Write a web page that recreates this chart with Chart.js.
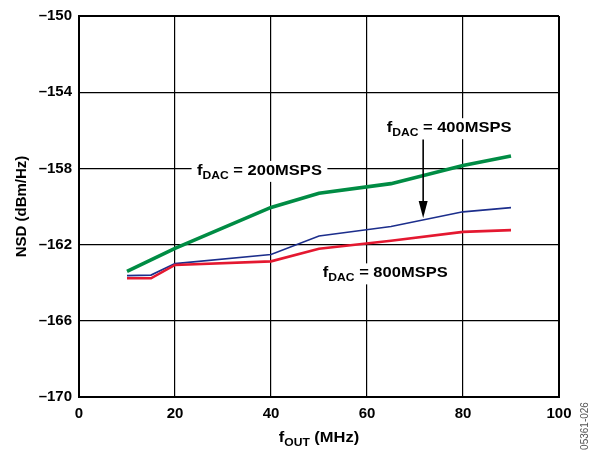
<!DOCTYPE html>
<html>
<head>
<meta charset="utf-8">
<script src="https://cdn.jsdelivr.net/npm/chart.js@4.4.0/dist/chart.umd.min.js"></script>
<style>
html, body { margin: 0; padding: 0; background: #fff; }
#wrap { width: 595px; height: 451px; }
</style>
</head>
<body>
<div id="wrap"><canvas id="myChart" width="595" height="451"></canvas></div>
<script>
// output frequency (MHz)
var fout = [10, 15, 20, 40, 50, 65, 80, 90];
// NSD (dBm/Hz) for each DAC rate
var nsd200 = [-163.4, -162.8, -162.2, -160.05, -159.3, -158.8, -157.85, -157.35];
var nsd400 = [-163.63, -163.6, -163.0, -162.52, -161.55, -161.05, -160.28, -160.06];
var nsd800 = [-163.77, -163.77, -163.07, -162.88, -162.22, -161.8, -161.33, -161.24];
var xTicks = [0, 20, 40, 60, 80, 100];
var yTicks = [-170, -166, -162, -158, -154, -150];

var FONT = '"Liberation Sans", Arial, sans-serif';

function points(ys) {
    return fout.map(function (x, i) { return { x: x, y: ys[i] }; });
}

// draws "f" + subscript + rest, starting at x (left) on baseline y
function drawSubLabel(ctx, x, y, main, sub, rest, sx, box) {
    ctx.save();
    ctx.translate(x, y);
    ctx.scale(sx, 1);
    ctx.textBaseline = 'alphabetic';
    ctx.textAlign = 'left';
    ctx.font = 'bold 15px ' + FONT;
    var w1 = ctx.measureText(main).width;
    var w3 = ctx.measureText(rest).width;
    ctx.font = 'bold 11px ' + FONT;
    var w2 = ctx.measureText(sub).width;
    var w = w1 + w2 + w3;
    if (box) {
        ctx.fillStyle = '#fff';
        ctx.fillRect(-5, -14, w + 10, 21);
    }
    ctx.fillStyle = '#000';
    ctx.font = 'bold 15px ' + FONT;
    ctx.fillText(main, 0, 0);
    ctx.font = 'bold 11px ' + FONT;
    ctx.fillText(sub, w1, 4);
    ctx.font = 'bold 15px ' + FONT;
    ctx.fillText(rest, w1 + w2, 0);
    ctx.restore();
    return w * sx;
}

var annotations = {
    id: 'annotations',
    afterDatasetsDraw: function (chart) {
        var ctx = chart.ctx;
        var xs = chart.scales.x, ys = chart.scales.y;

        drawSubLabel(ctx, xs.getPixelForValue(24.6), ys.getPixelForValue(-158.34), 'f', 'DAC', ' = 200MSPS', 1.1, true);
        drawSubLabel(ctx, xs.getPixelForValue(64.1), ys.getPixelForValue(-156.1), 'f', 'DAC', ' = 400MSPS', 1.1, true);
        drawSubLabel(ctx, xs.getPixelForValue(50.8), ys.getPixelForValue(-163.72), 'f', 'DAC', ' = 800MSPS', 1.1, true);

        // arrow to the 400MSPS curve
        var ax = xs.getPixelForValue(71.7);
        var y1 = ys.getPixelForValue(-156.48);
        var y2 = ys.getPixelForValue(-160.6);
        ctx.save();
        ctx.strokeStyle = '#000';
        ctx.fillStyle = '#000';
        ctx.lineWidth = 1.6;
        ctx.beginPath();
        ctx.moveTo(ax, y1);
        ctx.lineTo(ax, y2 - 14);
        ctx.stroke();
        ctx.beginPath();
        ctx.moveTo(ax - 4.5, y2 - 17);
        ctx.lineTo(ax + 4.5, y2 - 17);
        ctx.lineTo(ax, y2);
        ctx.closePath();
        ctx.fill();
        ctx.restore();
    },
    afterDraw: function (chart) {
        var ctx = chart.ctx;
        var a = chart.chartArea;

        // x axis title
        ctx.save();
        ctx.font = 'bold 15px ' + FONT;
        var w = ctx.measureText('f').width + ctx.measureText(' (MHz)').width;
        ctx.font = 'bold 11px ' + FONT;
        w += ctx.measureText('OUT').width;
        ctx.restore();
        drawSubLabel(ctx, (a.left + a.right) / 2 - w * 1.1 / 2, 442, 'f', 'OUT', ' (MHz)', 1.1, false);

        // y axis title
        ctx.save();
        ctx.translate(26, (a.top + a.bottom) / 2);
        ctx.rotate(-Math.PI / 2);
        ctx.font = 'bold 15px ' + FONT;
        ctx.fillStyle = '#000';
        ctx.textAlign = 'center';
        ctx.textBaseline = 'alphabetic';
        ctx.fillText('NSD (dBm/Hz)', 0, 0);
        ctx.restore();

        // figure code
        ctx.save();
        ctx.translate(588, 426);
        ctx.rotate(-Math.PI / 2);
        ctx.font = '10px ' + FONT;
        ctx.fillStyle = '#555';
        ctx.textAlign = 'center';
        ctx.textBaseline = 'alphabetic';
        ctx.fillText('05361-026', 0, 0);
        ctx.restore();
    }
};

function edgeWidth(lo, hi) {
    return function (c) {
        return (c.tick && (c.tick.value === lo || c.tick.value === hi)) ? 2 : 1.2;
    };
}

var ctx = document.getElementById('myChart').getContext('2d');
var chart = new Chart(ctx, {
    type: 'line',
    data: {
        datasets: [{
            label: 'fDAC = 800MSPS',
            data: points(nsd800),
            borderColor: 'rgb(228, 24, 48)',
            borderWidth: 2.6
        }, {
            label: 'fDAC = 400MSPS',
            data: points(nsd400),
            borderColor: 'rgb(28, 46, 140)',
            borderWidth: 1.6
        }, {
            label: 'fDAC = 200MSPS',
            data: points(nsd200),
            borderColor: 'rgb(0, 140, 68)',
            borderWidth: 3.6
        }]
    },
    options: {
        responsive: false,
        animation: false,
        devicePixelRatio: 1,
        layout: { padding: { left: 0, top: 14, right: 36, bottom: 0 } },
        elements: {
            point: { radius: 0 },
            line: { tension: 0, fill: false }
        },
        plugins: {
            legend: { display: false },
            tooltip: { enabled: false }
        },
        scales: {
            x: {
                type: 'linear',
                min: 0,
                max: 100,
                afterBuildTicks: function (s) { s.ticks = xTicks.map(function (v) { return { value: v }; }); },
                afterFit: function (s) { s.height = 54; },
                grid: { color: '#000', lineWidth: edgeWidth(0, 100), drawTicks: false },
                border: { display: true, color: '#000', width: 2 },
                ticks: {
                    color: '#000',
                    padding: 8,
                    maxRotation: 0,
                    font: { family: FONT, size: 15, weight: 'bold' }
                }
            },
            y: {
                type: 'linear',
                min: -170,
                max: -150,
                afterBuildTicks: function (s) { s.ticks = yTicks.map(function (v) { return { value: v }; }); },
                afterFit: function (s) { s.width = 79; },
                grid: { color: '#000', lineWidth: edgeWidth(-170, -150), drawTicks: false },
                border: { display: true, color: '#000', width: 2 },
                ticks: {
                    color: '#000',
                    padding: 7,
                    font: { family: FONT, size: 15, weight: 'bold' },
                    callback: function (v) { return String(v).replace('-', '\u2013'); }
                }
            }
        }
    },
    plugins: [annotations]
});
</script>
</body>
</html>
